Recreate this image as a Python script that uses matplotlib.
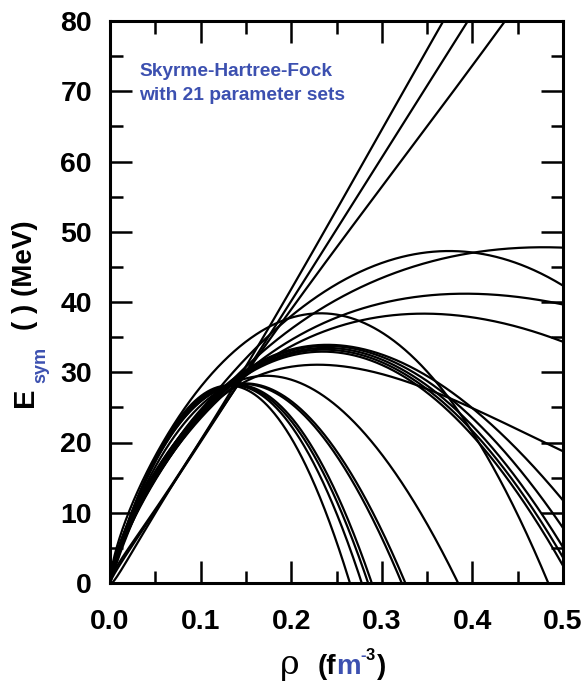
import numpy as np
import matplotlib
matplotlib.use("Agg")
import matplotlib.pyplot as plt
from matplotlib.ticker import MultipleLocator, FormatStrFormatter

plt.rcParams["font.family"] = ["Liberation Sans", "DejaVu Sans"]
plt.rcParams["font.weight"] = "bold"

BLUE = "#3c50b0"
RHO0 = 0.16  # saturation density, fm^-3

# Esym (MeV) of the 21 Skyrme sets, read at fixed low densities
E_004 = [8.5, 8.3, 8.0, 12.5, 12.8, 12.5, 12.5, 15.5,
         12.8, 13.0, 13.0, 13.0, 13.2, 13.2,
         15.0, 15.0, 15.0, 15.0, 14.8, 14.8, 14.0]
E_008 = [16.5, 16.2, 15.8, 20.5, 21.0, 20.5, 20.5, 25.0,
         21.0, 21.5, 21.5, 21.5, 22.0, 22.0,
         23.8, 23.6, 23.5, 23.4, 23.0, 23.0, 22.5]
E_014 = [28.5, 28.0, 28.3, 29.3, 30.0, 29.2, 28.8, 32.3,
         28.3, 29.3, 29.2, 29.0, 28.9, 28.8,
         28.2, 28.3, 28.3, 28.4, 28.6, 28.6, 28.8]

# and at three higher densities per set
RHO_MID = [0.193, 0.201, 0.208, 0.246, 0.217, 0.210, 0.195, 0.225,
           0.246, 0.250, 0.245, 0.240, 0.235, 0.230,
           0.200, 0.200, 0.200, 0.200, 0.200, 0.200, 0.210]
E_MID = [40.3, 40.3, 40.3, 40.3, 40.3, 35.0, 32.9, 39.2,
         30.6, 34.0, 33.6, 33.2, 32.8, 32.4,
         20.6, 22.3, 23.0, 23.5, 25.3, 25.7, 28.2]
RHO_LATE = [0.280, 0.300, 0.320, 0.394, 0.370, 0.379, 0.350, 0.353,
            0.357, 0.400, 0.400, 0.400, 0.400, 0.400,
            0.235, 0.240, 0.245, 0.245, 0.260, 0.260, 0.300]
E_LATE = [60.0, 60.6, 59.8, 46.7, 47.0, 41.3, 38.5, 29.3,
          27.5, 24.8, 23.6, 22.6, 22.0, 21.4,
          11.0, 12.9, 13.1, 14.1, 16.2, 16.9, 18.5]
RHO_END = [0.368, 0.395, 0.436, 0.5, 0.5, 0.5, 0.5, 0.484,
           0.5, 0.5, 0.5, 0.5, 0.5, 0.5,
           0.265, 0.278, 0.285, 0.289, 0.322, 0.326, 0.384]
E_END = [80.0, 80.0, 80.0, 47.8, 42.4, 39.6, 34.3, 0.0,
         18.7, 11.8, 7.8, 5.0, 3.5, 2.3,
         0.0, 0.0, 0.0, 0.0, 0.0, 0.0, 0.0]

X_TICKS = [0.0, 0.1, 0.2, 0.3, 0.4, 0.5]
Y_TICKS = [0, 10, 20, 30, 40, 50, 60, 70, 80]


def skyrme_basis(rho):
    # kinetic, t0, effective-mass and t3 (sigma=1) density dependences
    u = np.asarray(rho, dtype=float) / RHO0
    return np.column_stack([u ** (2 / 3), u, u ** (5 / 3), u ** 2])


def esym_curve(k, rho):
    r = [0.04, 0.08, 0.14, RHO_MID[k], RHO_LATE[k], RHO_END[k]]
    e = [E_004[k], E_008[k], E_014[k], E_MID[k], E_LATE[k], E_END[k]]
    coef, *_ = np.linalg.lstsq(skyrme_basis(r), np.array(e), rcond=None)
    return skyrme_basis(rho) @ coef


W, H = 583, 695
fig = plt.figure(figsize=(W / 100, H / 100), dpi=100)
ax = fig.add_axes([110 / W, 1 - 583 / H, 453 / W, 562 / H])

rho = np.linspace(0.0, 0.52, 600)
for k in range(len(E_END)):
    ax.plot(rho, esym_curve(k, rho), color="black", lw=1.6, solid_capstyle="round")

ax.set_xlim(0, 0.5)
ax.set_ylim(0, 80)
ax.set_xticks(X_TICKS)
ax.set_yticks(Y_TICKS)
ax.xaxis.set_major_formatter(FormatStrFormatter("%.1f"))
ax.xaxis.set_minor_locator(MultipleLocator(0.05))
ax.yaxis.set_minor_locator(MultipleLocator(5))
ax.tick_params(which="both", direction="in", top=True, right=True, width=1.8)
ax.tick_params(which="major", length=16, labelsize=20.5)
ax.tick_params(which="minor", length=9)
ax.tick_params(axis="x", which="major", pad=19)
ax.tick_params(axis="y", which="major", pad=13)
for sp in ax.spines.values():
    sp.set_linewidth(2.2)

ax.text(0.032, 74, "Skyrme-Hartree-Fock\nwith 21 parameter sets", color=BLUE,
        fontsize=13.8, va="top", ha="left", linespacing=1.5)


def px(x, y):
    return x / W, 1 - y / H


# y axis title, built from pieces so the subscript can be coloured
fig.text(*px(25, 397), "E", rotation=90, ha="center", va="center", fontsize=21)
fig.text(*px(41, 365), "sym", rotation=90, ha="center", va="center", fontsize=13, color=BLUE)
fig.text(*px(25, 275), "( ) (MeV)", rotation=90, ha="center", va="center", fontsize=20)

# x axis title
fig.text(*px(280, 674), "\u03c1", ha="left", va="baseline", fontsize=24,
         family="DejaVu Serif", weight="normal")
fig.text(*px(318, 674), "(f", ha="left", va="baseline", fontsize=20)
fig.text(*px(336, 674), "m", ha="left", va="baseline", fontsize=20, color=BLUE)
fig.text(*px(360, 660), "-", ha="left", va="baseline", fontsize=12, color=BLUE)
fig.text(*px(366, 660), "3", ha="left", va="baseline", fontsize=12)
fig.text(*px(376.5, 674), ")", ha="left", va="baseline", fontsize=20)

fig.savefig("out.png", dpi=100)
